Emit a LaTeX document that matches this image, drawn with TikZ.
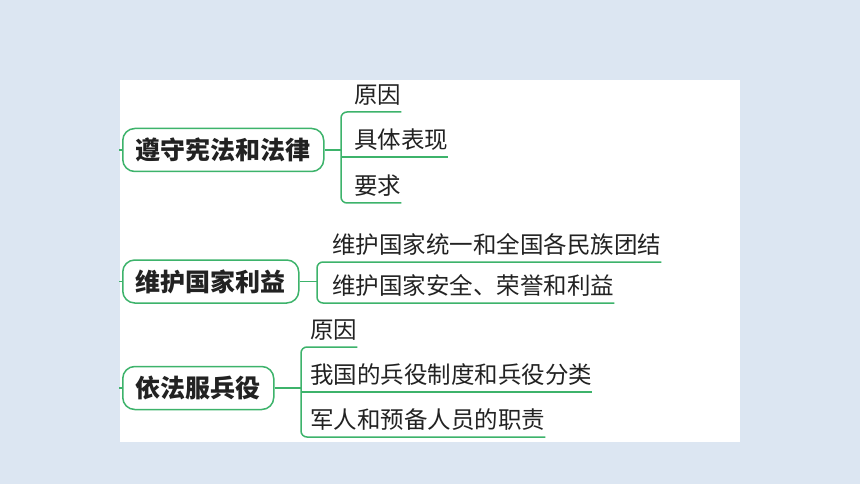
\documentclass[tikz,border=0pt]{standalone}
\usepackage{fontspec}
\newfontfamily\cjk{Noto Sans CJK SC}
\usepackage{tikz}
\definecolor{mapgreen}{HTML}{3DB36B}
\definecolor{pagebg}{HTML}{DCE6F2}
\definecolor{inkgray}{HTML}{222222}
\tikzset{
    rootnode/.style = {
        draw=mapgreen,
        line width=1.5pt,
        rounded corners=12pt,
        minimum height=43pt,
        inner xsep=13pt,
        inner ysep=0pt,
        anchor=west,
        text=inkgray,
        font=\cjk\bfseries\fontsize{25pt}{25pt}\selectfont
    },
    leafnode/.style = {
        inner sep=0pt,
        text depth=8.5pt,
        anchor=south west,
        text=inkgray,
        font=\cjk\fontsize{23.5pt}{23.5pt}\selectfont
    },
    branch/.style = {
        draw=mapgreen,
        line width=1.5pt
    },
    bracket/.style = {
        branch,
        rounded corners=6pt
    }
}
\begin{document}
\begin{tikzpicture}[x=1pt,y=-1pt]
    \fill[pagebg] (0,0) rectangle (860,484);
    \fill[white] (120,80) rectangle (740,442);
    % roots
    \node [rootnode] (law) at (122,150) {遵守宪法和法律};
    \node [rootnode] (nation) at (122,281.5) {维护国家利益};
    \node [rootnode] (army) at (122,388) {依法服兵役};
    % leaves
    \node [leafnode] (law1) at (354,112) {原因};
    \node [leafnode] (law2) at (354,157) {具体表现};
    \node [leafnode] (law3) at (354,203) {要求};
    \node [leafnode] (nation1) at (332,262) {维护国家统一和全国各民族团结};
    \node [leafnode] (nation2) at (332,303) {维护国家安全、荣誉和利益};
    \node [leafnode] (army1) at (310,347) {原因};
    \node [leafnode] (army2) at (310,392) {我国的兵役制度和兵役分类};
    \node [leafnode] (army3) at (310,437) {军人和预备人员的职责};
    % joints and stubs
    \coordinate (lawj) at (341,150);
    \coordinate (nationj) at (317,281.5);
    \coordinate (armyj) at (301,388);
    \coordinate (lawin) at (119,150);
    \coordinate (nationin) at (119,281.5);
    \coordinate (armyin) at (119,388);
    % connectors
    \draw [branch] (lawin) -- (law.west);
    \draw [branch] (law.east) -- (lawj);
    \draw [bracket] (law1.south east) -| (lawj) |- (law3.south east);
    \draw [branch] (law2.south -| lawj) -- (law2.south east);
    \draw [branch] (nationin) -- (nation.west);
    \draw [branch] (nation.east) -- (nationj);
    \draw [bracket] (nation1.south east) -| (nationj) |- (nation2.south east);
    \draw [branch] (armyin) -- (army.west);
    \draw [branch] (army.east) -- (armyj);
    \draw [bracket] (army1.south east) -| (armyj) |- (army3.south east);
    \draw [branch] (army2.south -| armyj) -- (army2.south east);
\end{tikzpicture}
\end{document}
